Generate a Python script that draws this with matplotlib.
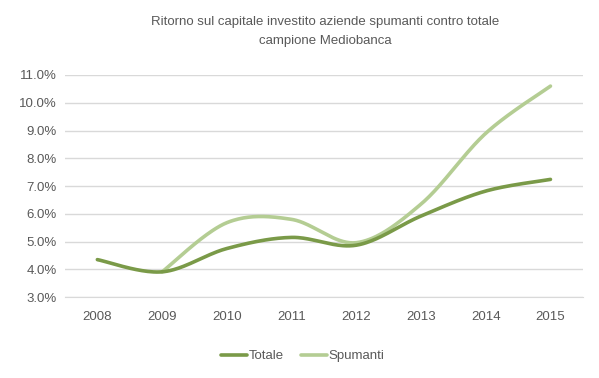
import matplotlib.pyplot as plt
import numpy as np
from matplotlib.ticker import FuncFormatter

plt.rcParams['font.family'] = ['Liberation Sans', 'DejaVu Sans']

years = ['2008', '2009', '2010', '2011', '2012', '2013', '2014', '2015']
totale = [4.35, 3.91, 4.75, 5.15, 4.87, 5.92, 6.82, 7.24]
spumanti = [np.nan, 3.91, 5.68, 5.80, 4.96, 6.35, 8.90, 10.60]

c_tot = '#7A9A48'
c_spu = '#B4CD93'
grey = '#595959'


def smooth(x, y, n=40):
    # Excel-like smoothing: cubic bezier through points, Catmull-Rom handles
    x = np.asarray(x, float)
    y = np.asarray(y, float)
    ok = ~np.isnan(y)
    x, y = x[ok], y[ok]
    xs, ys = [], []
    for i in range(len(x) - 1):
        p0 = np.array([x[max(i - 1, 0)], y[max(i - 1, 0)]])
        p1 = np.array([x[i], y[i]])
        p2 = np.array([x[i + 1], y[i + 1]])
        p3 = np.array([x[min(i + 2, len(x) - 1)], y[min(i + 2, len(x) - 1)]])
        c1 = p1 + (p2 - p0) / 6
        c2 = p2 - (p3 - p1) / 6
        t = np.linspace(0, 1, n)[:, None]
        b = (1 - t) ** 3 * p1 + 3 * (1 - t) ** 2 * t * c1 + 3 * (1 - t) * t ** 2 * c2 + t ** 3 * p2
        xs.extend(b[:, 0])
        ys.extend(b[:, 1])
    return np.array(xs), np.array(ys)


fig = plt.figure(figsize=(5.99, 3.78), dpi=100)
ax = fig.add_axes([0.1085, 0.214, 0.8645, 0.5876])

xi = np.arange(len(years))
sx, sy = smooth(xi, totale)
ax.plot(sx, sy, color=c_tot, lw=2.6, solid_capstyle='round', label='Totale', zorder=3)
sx, sy = smooth(xi, spumanti)
ax.plot(sx, sy, color=c_spu, lw=2.6, solid_capstyle='round', label='Spumanti', zorder=2)

ax.set_xlim(-0.5, len(years) - 0.5)
ax.set_ylim(3, 11)
ax.set_yticks(np.arange(3, 11.5, 1))
ax.yaxis.set_major_formatter(FuncFormatter(lambda v, p: f'{v:.1f}%'))
ax.set_xticks(xi)
ax.set_xticklabels(years)
ax.grid(axis='y', color='#D9D9D9', lw=1)
ax.set_axisbelow(True)
for s in ax.spines.values():
    s.set_visible(False)
ax.spines['bottom'].set_visible(True)
ax.spines['bottom'].set_color('#D9D9D9')
ax.tick_params(length=0, colors=grey, labelsize=9.5)
ax.tick_params(axis='x', pad=10)
ax.tick_params(axis='y', pad=6)

fig.text(0.543, 0.916, 'Ritorno sul capitale investito aziende spumanti contro totale\ncampione Mediobanca',
         ha='center', va='center', fontsize=9.5, color=grey, linespacing=1.75)

fig.legend(loc='center', bbox_to_anchor=(0.505, 0.058), ncol=2, frameon=False,
           fontsize=9.5, labelcolor=grey, handlelength=2.0, handletextpad=0.1, columnspacing=1.3)

fig.savefig('out.png', dpi=100)
